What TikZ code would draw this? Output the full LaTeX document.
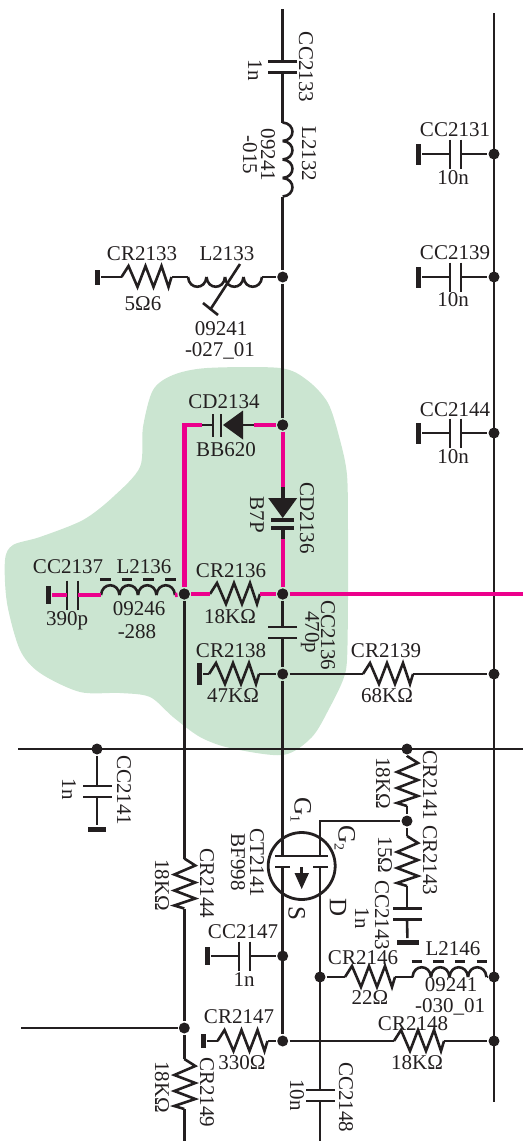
\documentclass[tikz,border=0pt]{standalone}
\usepackage{fontspec}
\setmainfont{Liberation Serif}
\usetikzlibrary{shapes,arrows}
\definecolor{ink}{HTML}{231F20}
\definecolor{netpink}{HTML}{EC008C}
\definecolor{blobgreen}{HTML}{CBE5D1}
\newcommand{\bigpin}[2]{{\fontsize{25}{27}\selectfont #1\raisebox{-4pt}{\fontsize{14}{14}\selectfont #2}}}
\tikzset{
  resistor/.pic={
    \coordinate (-l) at (-25,0);
    \coordinate (-r) at (25,0);
    \draw (-25,0) -- (-18,-11) -- (-9,10) -- (-1,-11) -- (7,10) -- (15,-11) -- (22,10) -- (25,0);
  },
  capacitor/.pic={
    \coordinate (-l) at (-5.5,0);
    \coordinate (-r) at (5.5,0);
    \draw (-5.5,-14.5) -- (-5.5,14.5);
    \draw (5.5,-14.5) -- (5.5,14.5);
  },
  coil/.pic={
    \coordinate (-l) at (-37,0);
    \coordinate (-r) at (37,0);
    \foreach \i in {0,1,2,3}
      \draw ({-37+18.5*\i},0) .. controls +(1,-13) and +(-1,-13) .. +(18.5,0);
  },
  core/.pic={
    \foreach \i in {0,1,2,3}
      \draw[line width=2.8] ({-38+21.7*\i},-15.5) -- +(10.5,0);
  },
  varicap/.pic={
    \coordinate (-l) at (-26,0);
    \coordinate (-r) at (26,0);
    \draw[diodestem] (-26,0) -- (-15,0);
    \draw[diodestem] (15,0) -- (26,0);
    \fill (-15,-14.5) -- (5,0) -- (-15,14.5) -- cycle;
    \draw[diodebar] (7,-11.5) -- (7,11.5);
    \draw[diodebar] (15,-11.5) -- (15,11.5);
  },
}
\begin{document}
\begin{tikzpicture}[x=1pt, y=-1pt, line width=2.6pt, color=ink, text=ink,
                    font=\fontsize{21}{23}\selectfont, inner sep=0pt,
                    diodestem/.style={}, diodebar/.style={}]
    \tikzstyle{wire} = [draw=ink]
    \tikzstyle{net} = [draw=netpink, line width=4.4pt]
    \tikzstyle{dot} = [circle, fill=ink, minimum size=11pt]
    \tikzstyle{gnd} = [rectangle, fill=ink, minimum width=5pt, minimum height=18pt]
    \tikzstyle{gndh} = [rectangle, fill=ink, minimum width=22pt, minimum height=5pt]
    \tikzstyle{side} = [rotate=-90]
    \useasboundingbox (0,0) rectangle (523,1141);

    \fill[blobgreen] plot[smooth cycle, tension=.5] coordinates {
      (173,375) (207,368) (280,368) (307,380) (328,403) (340,440) (347,475)
      (348,530) (348,600) (347,660) (343,680) (330,707) (312,737) (283,755)
      (230,748) (200,737) (173,717) (150,697) (120,693) (80,692) (40,673)
      (20,650) (7,603) (5,560) (13,545) (40,537) (83,520) (113,497) (140,467)
      (143,427) (153,390)};

    \coordinate (tophi) at (282.7,9);
    \coordinate (railtop) at (494,13);
    \coordinate (railbot) at (494,1102);
    \coordinate (hotl) at (18,749);
    \coordinate (hotr) at (523,749);
    \coordinate (tapl) at (21,1028);
    \coordinate (leftbot) at (184.3,1141);
    \coordinate (netr) at (523,594);
    \coordinate (netc) at (184.3,425);
    \coordinate (ct2141-s) at (282.7,867);
    \coordinate (ct2141-d) at (320,867);
    \coordinate (ct2141-g1) at (282.7,856);
    \coordinate (ct2141-g2) at (320,856);
    \coordinate (g2c) at (320,821);
    \coordinate (d2bot) at (320,1141);

    \node[dot] (j2133) at (282.7,277) {};
    \node[dot] (j2134) at (282.7,425) {};
    \node[dot] (j2136) at (282.7,594) {};
    \node[dot] (j2136l) at (184.3,594) {};
    \node[dot] (j2138) at (282.7,674) {};
    \node[dot] (j2139) at (494,674) {};
    \node[dot] (j2131) at (494,154) {};
    \node[dot] (j2139c) at (494,277) {};
    \node[dot] (j2144c) at (494,433) {};
    \node[dot] (j2141c) at (97,749) {};
    \node[dot] (j2141) at (407,749) {};
    \node[dot] (j2143) at (407,821) {};
    \node[dot] (j2147c) at (282.7,956) {};
    \node[dot] (j2146) at (320,977) {};
    \node[dot] (j2146r) at (494,977) {};
    \node[dot] (j2147) at (282.7,1041) {};
    \node[dot] (j2148) at (494,1041) {};
    \node[dot] (j2149) at (184.3,1028) {};

    \node[gnd] (t2137) at (48.5,595) {};
    \node[gnd, minimum height=15pt] (t2133) at (97.5,277) {};
    \node[gnd, minimum height=22pt] (t2138) at (199.5,674) {};
    \node[gnd, minimum height=21pt] (t2131) at (418.5,154) {};
    \node[gnd, minimum height=21pt] (t2139c) at (418.5,277) {};
    \node[gnd, minimum height=21pt] (t2144c) at (418.5,433) {};
    \node[gnd] (t2147c) at (207,956) {};
    \node[gnd, minimum height=14pt] (t2147) at (203.5,1041) {};
    \node[gndh, minimum width=18pt] (t2141c) at (97,829) {};
    \node[gndh] (t2143c) at (407.5,942) {};

    \pic (cc2133) [rotate=-90] at (282.7,67) {capacitor};
    \pic (l2132) [rotate=-90] at (282.7,159.5) {coil};
    \pic (cr2133) at (146.5,277) {resistor};
    \pic (l2133) [yscale=-1] at (225,277) {coil};
    \pic (cc2131) at (455.5,154) {capacitor};
    \pic (cc2139) at (455.5,277) {capacitor};
    \pic (cc2144) at (455.5,433) {capacitor};
    \pic (cd2134) [rotate=180] at (228,425) {varicap};
    \pic (cd2136) [rotate=-90, diodestem/.style={line width=4.4pt}, diodebar/.style={line width=3.6pt}] at (282.7,513) {varicap};
    \pic (cc2137) at (72.5,595) {capacitor};
    \pic (l2136) at (138,595) {coil};
    \pic (l2136c) at (138,595) {core};
    \pic (cr2136) at (235,594) {resistor};
    \pic (cc2136) [rotate=-90] at (282.7,632.5) {capacitor};
    \pic (cr2138) at (234,674) {resistor};
    \pic (cr2139) at (388,674) {resistor};
    \pic (cc2141) [rotate=-90] at (97,791.5) {capacitor};
    \pic (cr2141) [rotate=-90] at (407,781) {resistor};
    \pic (cr2143) [rotate=-90] at (407,861) {resistor};
    \pic (cc2143) [rotate=-90] at (407,914) {capacitor};
    \pic (cr2144) [rotate=-90] at (184.3,883.5) {resistor};
    \pic (cc2147) at (244.5,956) {capacitor};
    \pic (cr2146) at (370,977) {resistor};
    \pic (l2146) at (449.5,977) {coil};
    \pic (l2146c) at (449.5,977) {core};
    \pic (cr2147) at (242.5,1041) {resistor};
    \pic (cr2148) at (419,1041) {resistor};
    \pic (cc2148) [rotate=-90] at (320,1095.5) {capacitor};
    \pic (cr2149) [rotate=-90] at (184.3,1084) {resistor};

    \node[circle, draw=ink, line width=2.8pt, minimum size=67pt] (ct2141) at (301.7,866) {};
    \draw (275,856) -- (328,856);
    \draw (275,867) -- (290,867);
    \draw (313,867) -- (328,867);
    \draw (301.7,867) -- (301.7,875);
    \fill (294.5,873) -- (309,873) -- (301.7,889) -- cycle;
    \draw (240,264) -- (210,310);
    \draw (203,303) -- (218,315);

    \draw[wire] (tophi) -- (cc2133-l);
    \draw[wire] (cc2133-r) -- (l2132-l);
    \draw[wire] (l2132-r) -- (j2133);
    \draw[wire] (j2133) -- (j2134);
    \draw[wire] (t2133) -- (cr2133-l);
    \draw[wire] (cr2133-r) -- (l2133-l);
    \draw[wire] (l2133-r) -- (j2133);
    \draw[wire] (railtop) -- (railbot);
    \draw[wire] (t2131) -- (cc2131-l);
    \draw[wire] (cc2131-r) -- (j2131);
    \draw[wire] (t2139c) -- (cc2139-l);
    \draw[wire] (cc2139-r) -- (j2139c);
    \draw[wire] (t2144c) -- (cc2144-l);
    \draw[wire] (cc2144-r) -- (j2144c);
    \draw[wire] (hotl) -- (hotr);
    \draw[wire] (j2136) -- (cc2136-l);
    \draw[wire] (cc2136-r) -- (j2138);
    \draw[wire] (j2138) -- (ct2141-g1);
    \draw[wire] (ct2141-s) -- (j2147);
    \draw[wire] (t2138) -- (cr2138-l);
    \draw[wire] (cr2138-r) -- (j2138);
    \draw[wire] (j2138) -- (cr2139-l);
    \draw[wire] (cr2139-r) -- (j2139);
    \draw[wire] (j2141c) -- (cc2141-l);
    \draw[wire] (cc2141-r) -- (t2141c);
    \draw[wire] (j2136l) -- (cr2144-l);
    \draw[wire] (cr2144-r) -- (j2149);
    \draw[wire] (j2149) -- (cr2149-l);
    \draw[wire] (cr2149-r) -- (leftbot);
    \draw[wire] (tapl) -- (j2149);
    \draw[wire] (j2141) -- (cr2141-l);
    \draw[wire] (cr2141-r) -- (j2143);
    \draw[wire] (j2143) -- (cr2143-l);
    \draw[wire] (cr2143-r) -- (cc2143-l);
    \draw[wire] (cc2143-r) -- (t2143c);
    \draw[wire] (j2143) -- (g2c) -- (ct2141-g2);
    \draw[wire] (ct2141-d) -- (cc2148-l);
    \draw[wire] (cc2148-r) -- (d2bot);
    \draw[wire] (t2147c) -- (cc2147-l);
    \draw[wire] (cc2147-r) -- (j2147c);
    \draw[wire] (j2146) -- (cr2146-l);
    \draw[wire] (cr2146-r) -- (l2146-l);
    \draw[wire] (l2146-r) -- (j2146r);
    \draw[wire] (t2147) -- (cr2147-l);
    \draw[wire] (cr2147-r) -- (j2147);
    \draw[wire] (j2147) -- (cr2148-l);
    \draw[wire] (cr2148-r) -- (j2148);

    \draw[net] (j2134) -- (cd2136-l);
    \draw[net] (cd2136-r) -- (j2136);
    \draw[net] (j2134) -- (cd2134-l);
    \draw[net] (cd2134-r) -- (netc) -- (j2136l);
    \draw[net] (t2137) -- (cc2137-l);
    \draw[net] (cc2137-r) -- (l2136-l);
    \draw[net] (l2136-r) -- (j2136l);
    \draw[net] (j2136l) -- (cr2136-l);
    \draw[net] (cr2136-r) -- (j2136);
    \draw[net] (j2136) -- (netr);
    \fill (j2136) circle (5.5);
    \fill (j2136l) circle (5.5);
    \fill (j2134) circle (5.5);

    \node[side] (lcc2133) at (306,67) {CC2133};
    \node[side] (v2133) at (255,70) {1n};
    \node[side] (ll2132) at (309,154) {L2132};
    \node[side] (a2132) at (268,155) {09241};
    \node[side] (b2132) at (250,155) {-015};
    \node (lcr2133) at (142,254) {CR2133};
    \node (ll2133) at (227,254) {L2133};
    \node (v2133r) at (143,304) {5Ω6};
    \node (a2133) at (221,329) {09241};
    \node (b2133) at (220,351) {-027\_01};
    \node (lcc2131) at (455,130) {CC2131};
    \node (v2131) at (453,178) {10n};
    \node (lcc2139) at (455,253) {CC2139};
    \node (v2139) at (453,300) {10n};
    \node (lcc2144) at (455,410) {CC2144};
    \node (v2144) at (453,457) {10n};
    \node (lcd2134) at (224,402) {CD2134};
    \node (v2134) at (226,450) {BB620};
    \node[side] (lcd2136) at (307,518) {CD2136};
    \node[side] (v2136d) at (257,515) {B7P};
    \node (lcc2137) at (68,567) {CC2137};
    \node (ll2136) at (144,567) {L2136};
    \node (v2137) at (67,621) {390p};
    \node (a2136) at (139,609) {09246};
    \node (b2136) at (137,632) {-288};
    \node (lcr2136) at (231,571) {CR2136};
    \node (v2136) at (230,617) {18KΩ};
    \node[side] (lcc2136) at (328,635) {CC2136};
    \node[side] (v2136c) at (310,632) {470p};
    \node (lcr2138) at (231,651) {CR2138};
    \node (v2138) at (233,696) {47KΩ};
    \node (lcr2139) at (386,651) {CR2139};
    \node (v2139r) at (387,696) {68KΩ};
    \node[side] (lcc2141) at (124,790) {CC2141};
    \node[side] (v2141c) at (69,789) {1n};
    \node[side] (lcr2141) at (430,785) {CR2141};
    \node[side] (v2141) at (383,783) {18KΩ};
    \node[side] (lcr2143) at (430,860) {CR2143};
    \node[side] (v2143) at (385,855) {15Ω};
    \node[side] (lcc2143) at (382,915) {CC2143};
    \node[side] (v2143c) at (362,918) {1n};
    \node[side] (lg1) at (301,810) {\bigpin{G}{1}};
    \node[side] (lg2) at (345,838) {\bigpin{G}{2}};
    \node[side] (ls) at (295,913) {\bigpin{S}{}};
    \node[side] (ld) at (336,908) {\bigpin{D}{}};
    \node[side] (lct2141) at (257,863) {CT2141};
    \node[side] (vct2141) at (238,862) {BF998};
    \node[side] (lcr2144) at (207,883) {CR2144};
    \node[side] (v2144r) at (162,885) {18KΩ};
    \node (lcc2147) at (243,932) {CC2147};
    \node (v2147c) at (244,980) {1n};
    \node (lcr2146) at (363,958) {CR2146};
    \node (ll2146) at (453,949) {L2146};
    \node (v2146) at (370,998) {22Ω};
    \node (a2146) at (451,985) {09241};
    \node (b2146) at (450,1007) {-030\_01};
    \node (lcr2147) at (239,1017) {CR2147};
    \node (v2147) at (242,1063) {330Ω};
    \node (lcr2148) at (413,1024) {CR2148};
    \node (v2148) at (417,1063) {18KΩ};
    \node[side] (lcc2148) at (346,1097) {CC2148};
    \node[side] (v2148c) at (297,1095) {10n};
    \node[side] (lcr2149) at (207,1092) {CR2149};
    \node[side] (v2149) at (162,1087) {18KΩ};
  \end{tikzpicture}
\end{document}
